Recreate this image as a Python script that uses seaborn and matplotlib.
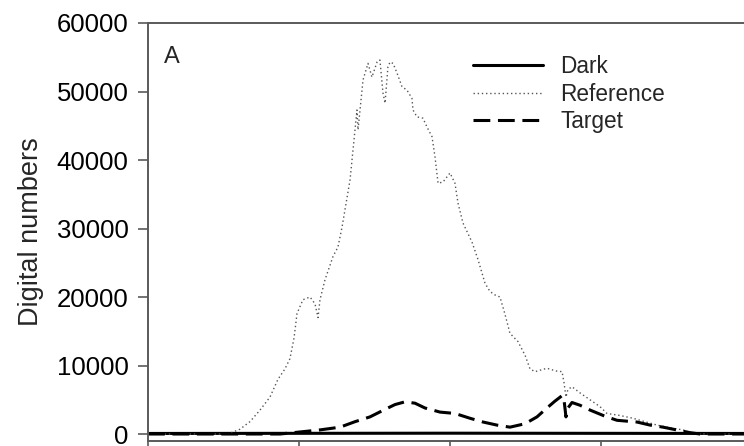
import matplotlib
matplotlib.use("Agg")
import matplotlib.pyplot as plt
import seaborn as sns
import pandas as pd

# ---- data ----
dark_wl = [300, 350, 400, 450, 500, 550, 600, 650, 700]
dark_dn = [80, 90, 100, 110, 120, 110, 100, 90, 80]

ref_wl = [300, 334.4, 353.0, 360.9, 367.5, 374.2, 380.8, 386.1, 390.7, 394.0, 396.7,
          398.7, 402.6, 407.3, 410.6, 412.6, 413.9, 417.2, 422.5, 425.8, 428.5, 433.8,
          438.4, 439.1, 442.4, 445.7, 448.3, 451.7, 453.6, 455.6, 457.0, 458.9, 460.3,
          462.3, 464.9, 468.2, 471.5, 474.8, 475.5, 478.1, 482.1, 484.8, 488.1, 490.1,
          492.1, 495.4, 500.0, 503.3, 505.3, 508.6, 514.6, 518.5, 523.2, 526.5, 529.8,
          533.1, 536.4, 539.7, 545.0, 549.7, 553.0, 556.3, 564.2, 570.2, 574.2, 575.5,
          576.8, 578.1, 580.8, 586.1, 592.7, 599.3, 604.0, 612.6, 621.2, 629.1, 637.1,
          645.7, 654.3, 660.9, 672.2, 700]
ref_dn = [0, 0, 0, 700, 1800, 3500, 5400, 8000, 9500, 11000, 14000,
          17600, 19600, 20000, 19000, 17000, 19600, 22500, 25900, 27300, 30200, 37100,
          47300, 44400, 51700, 54100, 52100, 54300, 54600, 49800, 48300, 53600, 54300,
          54100, 52700, 50700, 50200, 49000, 47300, 46300, 46100, 44800, 43400, 40400,
          36600, 36800, 38100, 36600, 33700, 30800, 28000, 25500, 22000, 20800, 20300,
          20000, 17500, 14700, 13500, 11500, 9500, 9100, 9600, 9200, 9100, 7500,
          5400, 6500, 6900, 6000, 5000, 4000, 3000, 2700, 2300, 1800, 1300,
          900, 600, 50, 0, 0]

tgt_wl = [300, 387.4, 400.7, 413.9, 427.2, 437.1, 447.0, 457.0, 463.6, 470.2, 476.8,
          483.4, 493.4, 503.3, 513.2, 521.9, 531.1, 539.7, 549.7, 557.6, 564.2, 569.5,
          574.2, 575.5, 576.8, 578.1, 580.8, 586.1, 592.7, 602.6, 610.6, 623.8, 632.5,
          641.1, 652.3, 658.9, 665.6, 700]
tgt_dn = [0, 0, 300, 600, 1000, 1800, 2500, 3600, 4300, 4700, 4500,
          3800, 3200, 3000, 2300, 1750, 1300, 1000, 1500, 2500, 3800, 4800,
          5600, 5000, 2500, 3800, 4600, 4200, 3500, 2600, 2000, 1750, 1300,
          1000, 500, 200, 0, 0]

y_ticks = [0, 10000, 20000, 30000, 40000, 50000, 60000]
x_ticks = [300, 400, 500, 600, 700]

# ---- style ----
sns.set_style("ticks")
plt.rcParams['font.family'] = ['Liberation Sans', 'DejaVu Sans']

fig = plt.figure(figsize=(7.44, 4.46), dpi=100)
ax = fig.add_axes([148/744, 5/446, 604/744, 418/446])

dark = pd.DataFrame({"wl": dark_wl, "dn": dark_dn})
ref = pd.DataFrame({"wl": ref_wl, "dn": ref_dn})
tgt = pd.DataFrame({"wl": tgt_wl, "dn": tgt_dn})

sns.lineplot(data=dark, x="wl", y="dn", ax=ax, color="black", linewidth=2.2,
             label="Dark")
sns.lineplot(data=ref, x="wl", y="dn", ax=ax, color="#555555", linewidth=1.0,
             linestyle=(0, (1, 2)), label="Reference")
sns.lineplot(data=tgt, x="wl", y="dn", ax=ax, color="black", linewidth=2.2,
             label="Target")
ax.lines[-1].set_dashes((5.5, 2.5))

ax.set_xlim(300, 700)
ax.set_ylim(-1020, 60000)
ax.set_yticks(y_ticks)
ax.set_yticklabels([str(v) for v in y_ticks], fontsize=18.5)
ax.set_xticks(x_ticks)
ax.set_xticklabels(["" for v in x_ticks])
ax.set_xlabel("")
ax.set_ylabel("Digital numbers", fontsize=19.5, labelpad=9)

for s in ax.spines.values():
    s.set_color("#5a5a5a")
    s.set_linewidth(1.4)
ax.tick_params(axis="both", direction="out", color="#5a5a5a", width=1.2,
               length=7, labelcolor="black")
ax.tick_params(axis="y", pad=7)

ax.text(0.026, 0.945, "A", transform=ax.transAxes, fontsize=17, va="top",
        ha="left")

leg = ax.legend(loc="upper left", bbox_to_anchor=(0.523, 0.945), frameon=False,
                fontsize=16.3, handlelength=3.1, handletextpad=0.75,
                labelspacing=0.2, borderaxespad=0)

fig.savefig("out.png", dpi=100)
